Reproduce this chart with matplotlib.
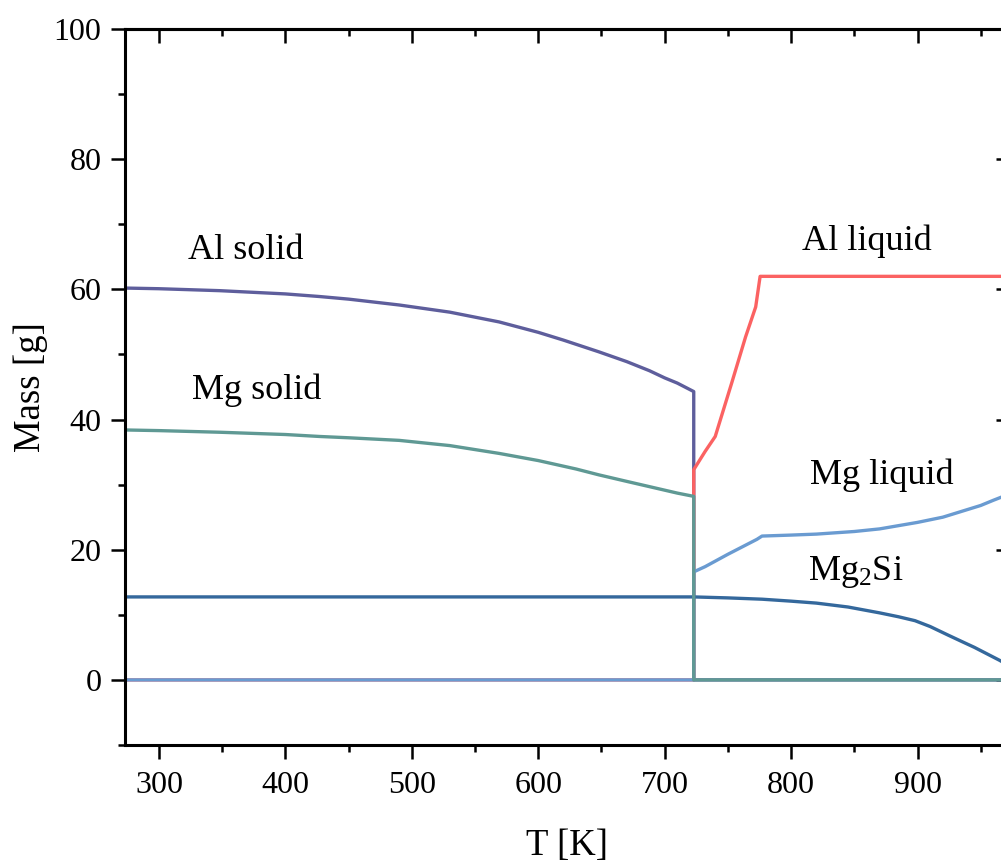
import matplotlib
matplotlib.use("Agg")
import matplotlib.pyplot as plt
from matplotlib.ticker import MultipleLocator

plt.rcParams['font.family'] = ['Liberation Serif', 'DejaVu Serif']
plt.rcParams['mathtext.fontset'] = 'custom'
plt.rcParams['mathtext.rm'] = 'Liberation Serif'
plt.rcParams['mathtext.default'] = 'regular'

# temperatures [K] and masses [g]
T_al_solid = [273.15, 300, 348, 400, 427, 450, 490, 530, 569, 600, 620, 648,
              670, 688, 700, 710, 723, 723, 973.15]
m_al_solid = [60.2, 60.1, 59.8, 59.3, 58.9, 58.5, 57.6, 56.5, 55.0, 53.4, 52.2, 50.4,
              48.9, 47.5, 46.4, 45.6, 44.3, 0, 0]

T_mg_solid = [273.15, 300, 348, 400, 427, 450, 490, 530, 569, 600, 630, 648,
              670, 690, 710, 723, 723, 973.15]
m_mg_solid = [38.4, 38.3, 38.05, 37.7, 37.4, 37.2, 36.8, 36.0, 34.8, 33.7, 32.4, 31.5,
              30.5, 29.6, 28.7, 28.2, 0, 0]

T_al_liq = [273.15, 723, 723, 732, 740, 753, 764, 772, 775.5, 973.15]
m_al_liq = [0, 0, 32.3, 35.1, 37.4, 45.6, 52.7, 57.3, 62.0, 62.0]

T_mg_liq = [273.15, 723, 723, 732, 750, 773, 777, 800, 820, 850, 870, 885, 900,
            920, 935, 950, 960, 973.15]
m_mg_liq = [0, 0, 16.6, 17.4, 19.3, 21.6, 22.1, 22.25, 22.4, 22.8, 23.2, 23.7, 24.2,
            25.0, 25.9, 26.8, 27.6, 28.6]

T_mg2si = [273.15, 723, 750, 777, 800, 820, 845, 870, 885, 898, 910, 924, 935,
           945, 955, 965, 973.15]
m_mg2si = [12.75, 12.75, 12.6, 12.4, 12.1, 11.8, 11.2, 10.3, 9.7, 9.1, 8.2, 6.9, 5.9,
           5.0, 4.0, 3.0, 2.1]

fig = plt.figure(figsize=(10.01, 8.61), dpi=100)
ax = fig.add_axes([125/1001, 116/861, 885/1001, 716/861])

lw = 2.4
ax.plot(T_al_solid, m_al_solid, color='#5e5e9c', lw=lw)
ax.plot(T_al_liq, m_al_liq, color='#fb6262', lw=lw)
ax.plot(T_mg_liq, m_mg_liq, color='#6a9bd1', lw=lw)
ax.plot(T_mg2si, m_mg2si, color='#34689c', lw=lw)
ax.plot(T_mg_solid, m_mg_solid, color='#5f9994', lw=lw)

fs = 26
ax.text(369, 66, 'Al solid', fontsize=fs, ha='center', va='center')
ax.text(377, 44.5, 'Mg solid', fontsize=fs, ha='center', va='center')
ax.text(860, 67.4, 'Al liquid', fontsize=fs, ha='center', va='center')
ax.text(872, 31.5, 'Mg liquid', fontsize=fs, ha='center', va='center')
ax.text(851, 16.6, r'Mg$_2$Si', fontsize=fs, ha='center', va='center')

ax.set_xlim(273.15, 973.15)
ax.set_ylim(-10, 100)
ax.xaxis.set_major_locator(MultipleLocator(100))
ax.xaxis.set_minor_locator(MultipleLocator(50))
ax.yaxis.set_major_locator(MultipleLocator(20))
ax.yaxis.set_minor_locator(MultipleLocator(10))

for s in ax.spines.values():
    s.set_linewidth(2.2)
ax.tick_params(which='major', direction='out', length=10, width=1.8, labelsize=23, pad=7)
ax.tick_params(which='minor', direction='out', length=5, width=1.8)
ax.tick_params(axis='x', which='major', pad=9)

# mirror ticks on top and right, pointing inward
top = ax.secondary_xaxis('top')
top.xaxis.set_major_locator(MultipleLocator(100))
top.xaxis.set_minor_locator(MultipleLocator(50))
top.tick_params(which='major', direction='in', length=10, width=1.8, labeltop=False)
top.tick_params(which='minor', direction='in', length=5, width=1.8)
right = ax.secondary_yaxis('right')
right.yaxis.set_major_locator(MultipleLocator(20))
right.yaxis.set_minor_locator(MultipleLocator(10))
right.tick_params(which='major', direction='in', length=10, width=1.8, labelright=False)
right.tick_params(which='minor', direction='in', length=5, width=1.8)
for sa in (top, right):
    for s in sa.spines.values():
        s.set_linewidth(2.2)

ax.set_xlabel('T [K]', fontsize=26.5, labelpad=20)
ax.set_ylabel('Mass [g]', fontsize=26.5, labelpad=4)

fig.savefig('out.png', dpi=100)
